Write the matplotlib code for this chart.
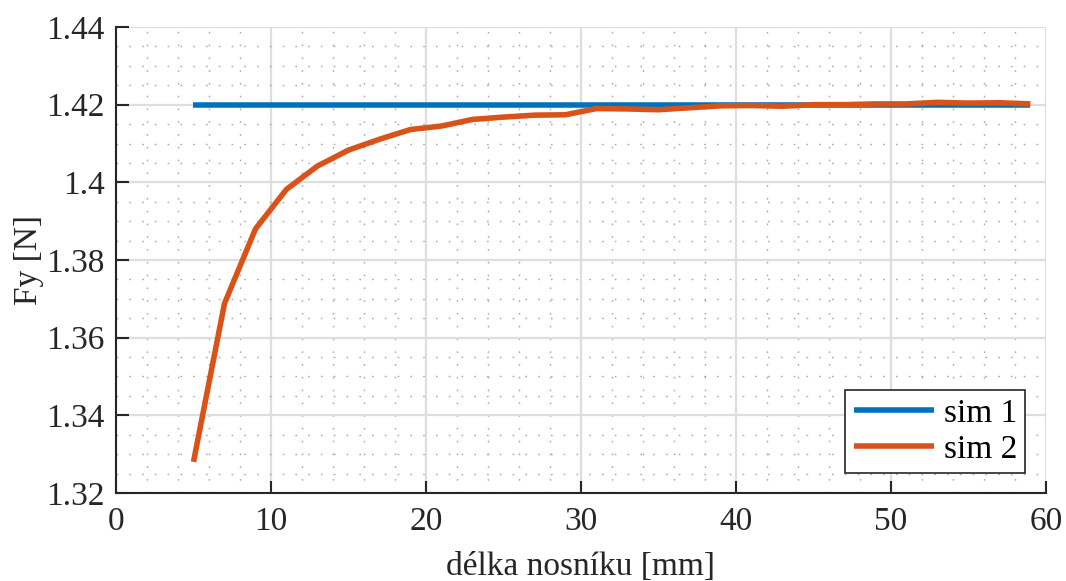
import matplotlib
matplotlib.use("Agg")
import matplotlib.pyplot as plt
from matplotlib.ticker import MultipleLocator

# beam length [mm]
delka = [5, 7, 9, 11, 13, 15, 17, 19, 21, 23, 25, 27, 29, 31,
         33, 35, 37, 39, 41, 43, 45, 47, 49, 51, 53, 55, 57, 59]
# reference force (sim 1) and computed force (sim 2) [N]
fy_sim1 = [1.42] * len(delka)
fy_sim2 = [1.3280, 1.3688, 1.3880, 1.3982, 1.4042, 1.4083, 1.4111,
           1.4136, 1.4145, 1.4162, 1.4168, 1.4173, 1.4174, 1.4190,
           1.4189, 1.4187, 1.4192, 1.4197, 1.4198, 1.4196, 1.4200,
           1.4200, 1.4202, 1.4202, 1.4206, 1.4204, 1.4205, 1.4202]
series_labels = ["sim 1", "sim 2"]
x_ticks = [0, 10, 20, 30, 40, 50, 60]
y_ticks = [1.32, 1.34, 1.36, 1.38, 1.40, 1.42, 1.44]
y_tick_labels = ["1.32", "1.34", "1.36", "1.38", "1.4", "1.42", "1.44"]

plt.rcParams["font.family"] = ["Liberation Serif", "DejaVu Serif"]

fig = plt.figure(figsize=(10.66, 5.81), dpi=100)
ax = fig.add_axes([0.1088, 0.1515, 0.8724, 0.802])

ax.plot(delka, fy_sim1, color="#0072BD", lw=4.0, label=series_labels[0],
        solid_capstyle="butt", zorder=3)
ax.plot(delka, fy_sim2, color="#D95319", lw=4.0, label=series_labels[1],
        solid_capstyle="butt", zorder=4)

ax.set_xlim(0, 60)
ax.set_ylim(1.32, 1.44)
ax.set_xticks(x_ticks)
ax.set_yticks(y_ticks)
ax.set_yticklabels(y_tick_labels)
ax.xaxis.set_minor_locator(MultipleLocator(2))
ax.yaxis.set_minor_locator(MultipleLocator(0.005))

ax.grid(which="major", color="#dedede", lw=1.6, ls="-", zorder=0)
ax.grid(which="minor", color="#a8a8a8", lw=1.0, ls=(0, (1.2, 8)), zorder=0)
ax.set_axisbelow(True)

for side in ("top", "right"):
    ax.spines[side].set_visible(False)
for side in ("left", "bottom"):
    ax.spines[side].set_color("#262626")
    ax.spines[side].set_linewidth(1.5)

ax.tick_params(which="major", direction="in", length=9, width=1.5,
               color="#262626", labelcolor="#262626", labelsize=24)
ax.tick_params(which="minor", length=0)
ax.tick_params(axis="y", pad=8)
ax.tick_params(axis="x", pad=10)

ax.set_xlabel("délka nosníku [mm]", fontsize=24, color="#262626", labelpad=10)
ax.set_ylabel("Fy [N]", fontsize=24, color="#262626", labelpad=2)

leg = ax.legend(loc="lower right", fontsize=24, frameon=True, fancybox=False,
                edgecolor="#262626", framealpha=1.0, handlelength=2.4,
                borderpad=0.25, labelspacing=0.15, handletextpad=0.3,
                borderaxespad=0.0, bbox_to_anchor=(0.978, 0.043))
leg.get_frame().set_linewidth(1.2)

fig.savefig("out.png", dpi=100, facecolor="white")
